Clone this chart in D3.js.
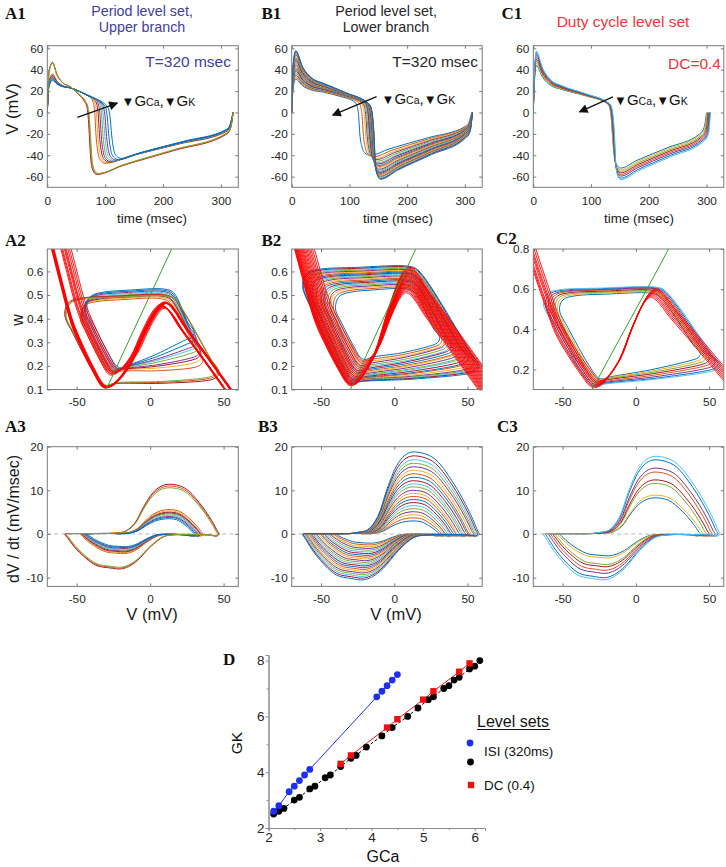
<!DOCTYPE html>
<html>
<head>
<meta charset="utf-8">
<title>Level sets</title>
<script src="https://cdn.jsdelivr.net/npm/d3@7/dist/d3.min.js"></script>
<style>
  body { margin: 0; background: #fff; }
</style>
</head>
<body>
<script>
// MATLAB default trace colours
var matlab = ['#0072BD', '#D95319', '#EDB120', '#7E2F8E', '#77AC30', '#4DBEEE', '#A2142F'];

// ---------- A : period level set, upper branch (12 runs) ----------
var aColor   = ['#D95319','#EDB120','#A2142F','#7E2F8E','#77AC30','#4DBEEE','#7E2F8E','#0072BD','#0072BD','#A2142F','#D95319','#77AC30'];
var aPeak    = [36, 35, 34.5, 34, 33, 32.5, 32, 31, 30, 47, 46.5, 46];          // max V (mV)
var aTrough  = [-47.5, -47, -46.5, -46, -45.5, -45, -44.5, -44, -43, -58, -57.5, -57];
var aFall    = [84, 87, 90, 93, 96, 99, 102, 106, 111, 72.5, 73.5, 74.5];        // ms at -20 mV on the way down
var aPlat    = [23, 23, 23, 23, 23, 23, 23, 23, 23, 24, 24, 24];                 // V at start of plateau
var aPre     = [13, 12, 11.5, 11, 10, 9, 8, 7, 6, 10, 10, 10];                   // V just before the fall
var aEnd     = [-18, -18, -17.5, -17.5, -17, -17, -16.5, -16.5, -16, -20.5, -20, -19.5];
var aPeriod  = [321, 321, 321, 321, 321, 321, 321, 321, 321, 321, 321, 321];
var aTopW    = [0.485, 0.49, 0.495, 0.5, 0.505, 0.51, 0.515, 0.52, 0.525, 0.5, 0.498, 0.495];
var aBotW    = [0.165, 0.17, 0.172, 0.175, 0.178, 0.18, 0.183, 0.186, 0.19, 0.112, 0.114, 0.116];
var aKneeV   = [-27, -26.5, -26, -25, -24.5, -24, -23, -22, -21, -31, -30.5, -30];
var aMaxV    = [7, 7.5, 8, 8, 8.5, 9, 9, 9.5, 10, 10, 10.5, 11];
var aMaxW    = [0.46, 0.458, 0.456, 0.455, 0.453, 0.45, 0.448, 0.446, 0.444, 0.47, 0.468, 0.466];
var aRateMax = [5.6, 5.3, 5.0, 4.8, 4.6, 4.3, 4.0, 3.8, 3.5, 11.4, 11.0, 10.6];
var aRateMin = [-4.5, -4.3, -4.1, -3.9, -3.7, -3.5, -3.3, -3.1, -2.9, -8.0, -7.8, -7.6];

// ---------- B : period level set, lower branch (22 runs, inner to outer) ----------
var bPeak    = [31, 32.5, 34, 35, 36.5, 38, 39, 40.5, 42, 43, 44.5, 46, 47, 48.5, 50, 51, 52.5, 54, 55, 56, 57, 58];
var bTrough  = [-40, -41.5, -43, -44, -45.5, -47, -48, -49.5, -50.5, -51.5, -53, -54, -55, -56, -57, -58, -59, -59.8, -60.5, -61.2, -62, -62.5];
var bFall    = [118, 124, 128, 130.5, 132.5, 134, 135, 136, 137, 137.5, 138, 138.5, 139, 139.5, 140, 140.5, 141, 141.3, 141.6, 142, 142.3, 142.6];
var bPlat    = [19, 19.5, 20, 20.5, 21, 21.3, 21.7, 22, 22.5, 23, 23.3, 23.7, 24, 24.5, 25, 25.3, 25.7, 26, 26.3, 26.6, 27, 27.3];
var bPre     = [9.5, 9.4, 9.3, 9.2, 9.1, 9, 8.9, 8.8, 8.7, 8.6, 8.5, 8.4, 8.3, 8.2, 8.1, 8, 7.9, 7.8, 7.7, 7.6, 7.5, 7.4];
var bEnd     = [-13, -13.5, -14, -14.5, -15, -15.5, -16, -16.5, -17, -17.5, -18, -18.5, -19, -19.5, -20, -20.5, -21, -21.5, -22, -22.5, -23, -24];
var bPeriod  = [313, 313, 313, 313, 313, 313, 313, 313, 313, 313, 313, 313, 313, 313, 313, 313, 313, 313, 313, 313, 313, 313];
var bTopW    = [0.526, 0.532, 0.538, 0.543, 0.548, 0.553, 0.558, 0.563, 0.568, 0.573, 0.578, 0.582, 0.586, 0.59, 0.594, 0.598, 0.602, 0.606, 0.61, 0.614, 0.618, 0.622];
var bBotW    = [0.225, 0.215, 0.206, 0.198, 0.19, 0.183, 0.176, 0.17, 0.164, 0.158, 0.153, 0.148, 0.144, 0.14, 0.136, 0.133, 0.13, 0.128, 0.126, 0.124, 0.122, 0.12];
var bKneeV   = [-21, -21.8, -22.5, -23.1, -23.7, -24.3, -24.8, -25.3, -25.8, -26.2, -26.6, -27, -27.4, -27.8, -28.1, -28.4, -28.7, -29, -29.3, -29.5, -29.8, -30];
var bMaxV    = [8, 8.1, 8.2, 8.3, 8.4, 8.5, 8.6, 8.7, 8.8, 8.9, 9, 9.1, 9.2, 9.3, 9.4, 9.5, 9.6, 9.7, 9.8, 9.9, 10, 10];
var bMaxW    = [0.51, 0.516, 0.522, 0.527, 0.532, 0.537, 0.542, 0.547, 0.552, 0.557, 0.562, 0.567, 0.572, 0.577, 0.582, 0.587, 0.592, 0.597, 0.603, 0.608, 0.614, 0.62];
var bRateMax = [3.0, 3.7, 4.4, 5.1, 5.8, 6.5, 7.2, 7.9, 8.6, 9.3, 10.0, 10.8, 11.5, 12.2, 13.0, 13.8, 14.6, 15.4, 16.2, 17.0, 17.9, 18.8];
var bRateMin = [-2.1, -2.5, -2.9, -3.3, -3.7, -4.1, -4.5, -4.9, -5.3, -5.7, -6.1, -6.5, -6.9, -7.3, -7.7, -8.1, -8.5, -8.9, -9.3, -9.7, -10.1, -10.5];

// ---------- C : duty cycle level set (8 runs, inner to outer) ----------
var cColor   = ['#0072BD','#EDB120','#77AC30','#A2142F','#D95319','#7E2F8E','#0072BD','#4DBEEE'];
var cPeak    = [44, 46, 48, 50, 52, 54, 56, 57.5];
var cTrough  = [-52, -53.5, -55, -56.5, -58, -59.5, -61.5, -63];
var cFall    = [137, 137.5, 138, 138.5, 139, 139.5, 140, 140.5];
var cPlat    = [21.5, 22, 22.5, 23, 23.5, 24, 24.5, 25];
var cPre     = [8, 8, 8, 8, 8, 8, 8, 8];
var cEnd     = [-20, -21, -22, -23, -24, -25, -26, -27];
var cPeriod  = [300, 301, 302, 303, 304, 305, 306, 307];
var cTopW    = [0.58, 0.585, 0.59, 0.595, 0.6, 0.603, 0.607, 0.61];
var cBotW    = [0.15, 0.145, 0.14, 0.135, 0.128, 0.122, 0.117, 0.113];
var cKneeV   = [-24, -25, -26, -26.5, -27, -28, -28.5, -29];
var cMaxV    = [10, 10.5, 11, 11.5, 12, 12.5, 13, 13.5];
var cMaxW    = [0.56, 0.566, 0.572, 0.578, 0.584, 0.59, 0.596, 0.602];
var cRateMax = [8.3, 8.9, 11.6, 12.4, 14.2, 15.1, 17.0, 17.8];
var cRateMin = [-5.0, -5.5, -7.0, -7.5, -8.3, -9.0, -10.0, -10.5];

// w-nullcline (green)
var wNullV = [-34, -30, -15, 0, 15, 26];
var wNullW = [0.05, 0.1, 0.3, 0.5, 0.7, 0.85];

// ---------- D : level sets in (GCa, GK) ----------
var dBlueX  = [2.1, 2.2, 2.4, 2.5, 2.6, 2.7, 2.8, 4.1, 4.2, 4.3, 4.4, 4.5];
var dBlueY  = [2.6, 2.8, 3.3, 3.5, 3.7, 3.9, 4.1, 6.7, 6.9, 7.1, 7.3, 7.5];
var dBlackX = [2.1, 2.2, 2.3, 2.5, 2.6, 2.8, 2.9, 3.1, 3.2, 3.4, 3.6, 3.7, 3.9, 4.2, 4.4, 4.7, 4.9, 5.1, 5.2, 5.4, 5.5, 5.6, 5.7, 5.9, 6.0, 6.1];
var dBlackY = [2.5, 2.6, 2.7, 3.0, 3.1, 3.4, 3.5, 3.8, 3.9, 4.2, 4.5, 4.6, 4.9, 5.3, 5.6, 6.0, 6.3, 6.6, 6.7, 7.0, 7.1, 7.3, 7.4, 7.7, 7.8, 8.0];
var dRedX   = [3.4, 3.6, 4.3, 4.5, 5.0, 5.2, 5.7, 5.9];
var dRedY   = [4.3, 4.6, 5.6, 5.9, 6.6, 6.9, 7.6, 7.9];

// trace shape templates (offsets from knee / hump of each trace)
var NULL_LEFT  = [[-2.3,0.01],[-8,0.072],[-15,0.16],[-22.5,0.27],[-29.5,0.43],[-36,0.59],[-41,0.72],[-46,0.86]];
var NULL_MID   = [[0.08,0.01],[0.15,0.04],[0.4,0.26],[0.63,0.62],[0.83,0.89],[0.93,0.975]];
var NULL_RIGHT = [[3,-0.01],[7,-0.04],[12,-0.09],[25,-0.2],[40,-0.33],[55,-0.46],[70,-0.59]];
var LOOP_LEFT  = [[0.3,0.22],[0.55,0.48],[0.8,0.76]];
var RISE   = [[0,0.02],[0.18,0.05],[0.36,0.21],[0.53,0.55],[0.7,0.83],[0.85,0.96]];
var FALL_R = [[0.3,0.93],[0.6,0.63],[0.85,0.27],[0.97,0.05]];
var DIP_R  = [[0.556,0.02],[0.438,0.075],[0.304,0.36],[0.172,0.75],[0.08,0.93]];
var DIP_L  = [[0.2,0.97],[0.45,0.89],[0.78,0.46],[0.95,0.12]];

var FONT = '"Liberation Sans", Arial, Helvetica, sans-serif';
var SERIF = '"Liberation Serif", "Times New Roman", Times, serif';

var svg = d3.select('body').append('svg').attr('width', 726).attr('height', 867);
svg.append('rect').attr('width', 726).attr('height', 867).attr('fill', '#fff');
var defs = svg.append('defs');
defs.append('marker').attr('id', 'ah').attr('viewBox', '0 0 10 10')
  .attr('refX', 9).attr('refY', 5).attr('markerWidth', 12).attr('markerHeight', 9)
  .attr('markerUnits', 'userSpaceOnUse').attr('orient', 'auto')
  .append('path').attr('d', 'M0,0L10,5L0,10z').attr('fill', '#111');

var COLS = {A: [47.3, 238.3], B: [291.7, 482.2], C: [533.3, 723.8]};
var ROWS = {1: [45.7, 187.3], 2: [249, 389.5], 3: [446.7, 586.4]};

var clipN = 0;
function panel(col, row, xdom, ydom) {
  var xr = COLS[col], yr = ROWS[row];
  var x = d3.scaleLinear().domain(xdom).range(xr);
  var y = d3.scaleLinear().domain(ydom).range([yr[1], yr[0]]);
  var id = 'clip' + (clipN++);
  defs.append('clipPath').attr('id', id).append('rect')
    .attr('x', xr[0]).attr('y', yr[0]).attr('width', xr[1] - xr[0]).attr('height', yr[1] - yr[0]);
  var g = svg.append('g').attr('clip-path', 'url(#' + id + ')');
  return {x: x, y: y, g: g, xr: xr, yr: yr};
}

function frame(p, xticks, yticks, yfmt, xpad) {
  var ax = svg.append('g');
  var plain = function(d) { return String(d); };
  ax.append('g').attr('transform', 'translate(0,' + p.yr[1] + ')')
    .call(d3.axisBottom(p.x).tickValues(xticks).tickSizeInner(-3).tickSizeOuter(0).tickPadding(xpad).tickFormat(plain));
  ax.append('g').attr('transform', 'translate(0,' + p.yr[0] + ')')
    .call(d3.axisTop(p.x).tickValues(xticks).tickSizeInner(-3).tickSizeOuter(0).tickFormat(''));
  ax.append('g').attr('transform', 'translate(' + p.xr[0] + ',0)')
    .call(d3.axisLeft(p.y).tickValues(yticks).tickSizeInner(-3).tickSizeOuter(0).tickPadding(4).tickFormat(yfmt || plain));
  ax.append('g').attr('transform', 'translate(' + p.xr[1] + ',0)')
    .call(d3.axisRight(p.y).tickValues(yticks).tickSizeInner(-3).tickSizeOuter(0).tickFormat(''));
  ax.selectAll('.domain').remove();
  ax.selectAll('g').attr('font-family', FONT).attr('font-size', 11.8);
  ax.selectAll('.tick line').attr('stroke', '#7a7a7a');
  ax.selectAll('.tick text').attr('fill', '#262626');
  ax.append('rect').attr('x', p.xr[0]).attr('y', p.yr[0])
    .attr('width', p.xr[1] - p.xr[0]).attr('height', p.yr[1] - p.yr[0])
    .attr('fill', 'none').attr('stroke', '#7a7a7a').attr('stroke-width', 1);
}

function txt(x, y, s, size, opt) {
  opt = opt || {};
  var t = svg.append('text').attr('x', x).attr('y', y).attr('font-size', size)
    .attr('text-anchor', opt.anchor || 'start').attr('fill', opt.fill || '#1a1a1a')
    .attr('font-family', opt.family || FONT).text(s);
  if (opt.weight) t.attr('font-weight', opt.weight);
  if (opt.rotate) t.attr('transform', 'rotate(-90,' + x + ',' + y + ')');
  return t;
}

function family(c) {
  return c.peak.map(function(_, i) {
    return {
      color: c.color[i], peak: c.peak[i], trough: c.trough[i], fall: c.fall[i],
      plat: c.plat[i], pre: c.pre[i], end: c.end[i], period: c.period[i],
      topW: c.topW[i], botW: c.botW[i], kneeV: c.kneeV[i], maxV: c.maxV[i], maxW: c.maxW[i],
      rmax: c.rmax[i], rmin: c.rmin[i], thick: c.thick ? c.thick(i) : false
    };
  });
}

// V(t) trace of one run
function voltagePoints(r, f) {
  var P = r.peak, tp = f.tPeak, t1 = f.tPlat, V1 = r.plat;
  var tf = r.fall, V2 = r.pre, Tr = r.trough, Ve = r.end, T = r.period;
  var dTr = 12 + 0.3 * (Tr + 60);
  var tTr = tf + dTr, D = T - 12 - tTr;
  return [
    [0, 0], [1.2, 0.45 * P], [3, 0.82 * P], [tp, P],
    [tp + 0.25 * (t1 - tp), P - 0.5 * (P - V1)],
    [tp + 0.55 * (t1 - tp), P - 0.82 * (P - V1)],
    [t1, V1],
    [(t1 + tf - 8) / 2, (V1 + V2) / 2 + 1],
    [tf - 8, V2], [tf - 4.5, V2 - 4], [tf - 2, V2 - 13], [tf, -20],
    [tf + 0.2 * dTr, Tr + 0.4 * (-20 - Tr)],
    [tf + 0.5 * dTr, Tr + 0.1 * (-20 - Tr)],
    [tTr, Tr],
    [tTr + 0.2 * D, Tr + 0.22 * (Ve - Tr)],
    [tTr + 0.6 * D, Tr + 0.6 * (Ve - Tr)],
    [T - 12, Ve], [T - 6, Ve + 3.5], [T - 2.5, Ve + 10], [T, 0]
  ];
}

// V-nullcline of one run
function nullPoints(r, s) {
  var kw = r.botW - 0.004;
  var pts = NULL_LEFT.slice().reverse().map(function(d) { return [r.kneeV + s * d[0], kw + d[1]]; });
  pts.push([r.kneeV, kw]);
  NULL_MID.forEach(function(d) { pts.push([r.kneeV + d[0] * (r.maxV - r.kneeV), kw + d[1] * (r.maxW - kw)]); });
  pts.push([r.maxV, r.maxW]);
  NULL_RIGHT.forEach(function(d) { pts.push([r.maxV + d[0], r.maxW + d[1]]); });
  return pts;
}

// limit cycle in the (V, w) plane
function loopPoints(r) {
  var wL = r.topW - 0.09;
  var wR = r.topW - 0.0085 * (r.peak - r.maxV) - 0.01;
  var wB = wR - 0.035;
  var vBR = r.peak - 6, vBL = r.kneeV + 6;
  var pts = [
    [r.trough, wL], [r.trough + 1, wL + 0.045], [r.trough + 4, r.topW - 0.025],
    [r.trough + 12, r.topW - 0.012], [(r.trough + r.maxV) / 2, r.topW - 0.005],
    [r.maxV, r.topW], [r.maxV + 6, r.topW - 0.015],
    [r.peak - 4, wR + 0.035], [r.peak - 0.8, wR + 0.01], [r.peak, wR - 0.006],
    [r.peak - 1.8, wR - 0.024], [vBR, wB],
    [(vBR + vBL) / 2, r.botW + 0.5 * (wB - r.botW)],
    [vBL, r.botW + 0.012], [r.kneeV + 1, r.botW + 0.002], [r.kneeV - 2, r.botW + 0.01]
  ];
  LOOP_LEFT.forEach(function(d) { pts.push([r.kneeV + d[0] * (r.trough - r.kneeV), r.botW + d[1] * (wL - r.botW)]); });
  return pts;
}

// dV/dt against V
function ratePoints(r) {
  var R = r.rmax, M = -r.rmin;
  var sh = 0.25 * (r.trough + 62);
  var V0 = -25 + sh, Vp = 13, Vn = -21 + sh;
  var pts = [[r.trough, 0], [r.trough + 3, 0.08], [V0 - 5, 0.12]];
  RISE.forEach(function(d) { pts.push([V0 + d[0] * (Vp - V0), d[1] * R]); });
  pts.push([Vp, R]);
  FALL_R.forEach(function(d) { pts.push([Vp + d[0] * (r.peak - Vp), d[1] * R]); });
  pts.push([r.peak, 0], [r.peak - 1.5, -0.45], [r.peak - 6, -0.25]);
  DIP_R.forEach(function(d) { pts.push([Vn + d[0] * (r.peak - Vn), -d[1] * M]); });
  pts.push([Vn, -M]);
  DIP_L.forEach(function(d) { pts.push([Vn - d[0] * (Vn - r.trough), -d[1] * M]); });
  return pts;
}

var fams = [
  {col: 'A', tPeak: 9, tPlat: 40, s: 1.0,
   runs: family({color: aColor, peak: aPeak, trough: aTrough, fall: aFall, plat: aPlat, pre: aPre, end: aEnd, period: aPeriod,
                 topW: aTopW, botW: aBotW, kneeV: aKneeV, maxV: aMaxV, maxW: aMaxW, rmax: aRateMax, rmin: aRateMin,
                 thick: function(i) { return i >= 9; }})},
  {col: 'B', tPeak: 7, tPlat: 55, s: 1.07,
   runs: family({color: bPeak.map(function(_, i) { return matlab[i % 7]; }), peak: bPeak, trough: bTrough, fall: bFall, plat: bPlat,
                 pre: bPre, end: bEnd, period: bPeriod, topW: bTopW, botW: bBotW, kneeV: bKneeV, maxV: bMaxV, maxW: bMaxW,
                 rmax: bRateMax, rmin: bRateMin})},
  {col: 'C', tPeak: 5, tPlat: 50, s: 1.15,
   runs: family({color: cColor, peak: cPeak, trough: cTrough, fall: cFall, plat: cPlat, pre: cPre, end: cEnd, period: cPeriod,
                 topW: cTopW, botW: cBotW, kneeV: cKneeV, maxV: cMaxV, maxW: cMaxW, rmax: cRateMax, rmin: cRateMin})}
];

var wNull = wNullV.map(function(v, i) { return [v, wNullW[i]]; });

fams.forEach(function(f) {
  // row 1 : V(t)
  var p1 = panel(f.col, 1, [0, 330], [-70, 62.5]);
  var l1 = d3.line().x(function(d) { return p1.x(d[0]); }).y(function(d) { return p1.y(d[1]); }).curve(d3.curveMonotoneX);
  p1.g.selectAll('path.v').data(f.runs).enter().append('path')
    .attr('d', function(r) { return l1(voltagePoints(r, f)); })
    .attr('fill', 'none').attr('stroke', function(r) { return r.color; }).attr('stroke-width', 1);
  frame(p1, [0, 100, 200, 300], [-60, -40, -20, 0, 20, 40, 60], null, 9);
  f.p1 = p1;

  // row 2 : phase plane
  var p2 = panel(f.col, 2, [-70, 60], f.col === 'C' ? [0.1, 0.8] : [0.1, 0.695]);
  var l2 = d3.line().x(function(d) { return p2.x(d[0]); }).y(function(d) { return p2.y(d[1]); });
  p2.g.selectAll('path.loop').data(f.runs).enter().append('path')
    .attr('d', function(r) { return l2.curve(d3.curveCatmullRomClosed.alpha(0.5))(loopPoints(r)); })
    .attr('fill', 'none').attr('stroke', function(r) { return r.color; }).attr('stroke-width', 1);
  p2.g.selectAll('path.nc').data(f.runs).enter().append('path')
    .attr('d', function(r) { return l2.curve(d3.curveCatmullRom.alpha(0.5))(nullPoints(r, f.s)); })
    .attr('fill', 'none').attr('stroke', '#ff0000')
    .attr('stroke-width', function(r) { return r.thick ? 1.8 : 0.9; });
  p2.g.append('path').attr('d', l2.curve(d3.curveMonotoneX)(wNull))
    .attr('fill', 'none').attr('stroke', '#33a02c').attr('stroke-width', 1);
  frame(p2, [-50, 0, 50], f.col === 'C' ? [0.2, 0.4, 0.6, 0.8] : [0.1, 0.2, 0.3, 0.4, 0.5, 0.6], d3.format('.1f'), 8);

  // row 3 : dV/dt against V
  var p3 = panel(f.col, 3, [-70, 60], [-12, 20]);
  var l3 = d3.line().x(function(d) { return p3.x(d[0]); }).y(function(d) { return p3.y(d[1]); });
  p3.g.append('path').attr('d', l3([[-70, 0], [60, 0]]))
    .attr('stroke', '#cfcfcf').attr('stroke-width', 1.3).attr('stroke-dasharray', '4,3');
  p3.g.selectAll('path.r').data(f.runs).enter().append('path')
    .attr('d', function(r) { return l3.curve(d3.curveCatmullRomClosed.alpha(0.5))(ratePoints(r)); })
    .attr('fill', 'none').attr('stroke', function(r) { return r.color; }).attr('stroke-width', 1);
  frame(p3, [-50, 0, 50], [-10, 0, 10, 20], null, 8);
});

// arrows in the V(t) panels (data coordinates)
function arrow(p, from, to) {
  svg.append('line')
    .attr('x1', p.x(from[0])).attr('y1', p.y(from[1]))
    .attr('x2', p.x(to[0])).attr('y2', p.y(to[1]))
    .attr('stroke', '#111').attr('stroke-width', 1.3).attr('marker-end', 'url(#ah)');
}
arrow(fams[0].p1, [52, -4.5], [121, 8.8]);
arrow(fams[1].p1, [147, 14.8], [71, -2.5]);
arrow(fams[2].p1, [138, 14.6], [80, 0.5]);

function condLabel(x, y) {
  var t = svg.append('text').attr('x', x).attr('y', y).attr('fill', '#111').attr('font-family', FONT);
  t.append('tspan').attr('font-size', 13).text('▼');
  t.append('tspan').attr('font-size', 15).text('G');
  t.append('tspan').attr('font-size', 10.5).text('Ca');
  t.append('tspan').attr('font-size', 15).text(',');
  t.append('tspan').attr('font-size', 13).text('▼');
  t.append('tspan').attr('font-size', 15).text('G');
  t.append('tspan').attr('font-size', 10.5).text('K');
}
condLabel(121.5, 105.5);
condLabel(381.5, 104);
condLabel(614, 105);

// titles and labels
var blue = '#40409a', red = '#e8363c';
txt(142, 16, 'Period level set,', 14.3, {anchor: 'middle', fill: blue});
txt(142, 32, 'Upper branch', 14.3, {anchor: 'middle', fill: blue});
txt(386, 16, 'Period level set,', 14.3, {anchor: 'middle', fill: '#262626'});
txt(386, 32, 'Lower branch', 14.3, {anchor: 'middle', fill: '#262626'});
txt(623, 27, 'Duty cycle level set', 15.5, {anchor: 'middle', fill: red});
txt(231, 67, 'T=320 msec', 15.5, {anchor: 'end', fill: blue});
txt(478, 67, 'T=320 msec', 15.5, {anchor: 'end', fill: '#262626'});
txt(721, 69, 'DC=0.4', 15.5, {anchor: 'end', fill: red});

[['A1', 5, 18.5], ['B1', 261.5, 18.5], ['C1', 501.5, 18.5],
 ['A2', 5, 245.5], ['B2', 261.5, 245.5], ['C2', 496, 243.5],
 ['A3', 5, 432], ['B3', 258, 432], ['C3', 497, 432], ['D', 223, 665]].forEach(function(d) {
  txt(d[1], d[2], d[0], 17, {family: SERIF, weight: 'bold', fill: '#111'});
});

txt(18.3, 109, 'V (mV)', 16.5, {anchor: 'middle', rotate: true});
txt(23, 320, 'w', 16, {anchor: 'middle', rotate: true});
txt(18.6, 519, 'dV / dt (mV/msec)', 16, {anchor: 'middle', rotate: true});
txt(152, 222.5, 'time (msec)', 13.4, {anchor: 'middle'});
txt(398, 222.5, 'time (msec)', 13.4, {anchor: 'middle'});
txt(639, 222.5, 'time (msec)', 13.4, {anchor: 'middle'});
txt(152, 620, 'V (mV)', 16.5, {anchor: 'middle'});
txt(396, 620, 'V (mV)', 16.5, {anchor: 'middle'});

// ---------- panel D ----------
var dx = d3.scaleLinear().domain([2, 6.2]).range([268.5, 485]);
var dy = d3.scaleLinear().domain([2, 8.2]).range([828, 655]);
var dAx = svg.append('g');
dAx.append('g').attr('transform', 'translate(0,828)')
  .call(d3.axisBottom(dx).tickValues([2, 3, 4, 5, 6]).tickSize(3).tickPadding(1.5).tickFormat(d3.format('d')));
dAx.append('g').attr('transform', 'translate(0,828)')
  .call(d3.axisBottom(dx).tickValues([2.5, 3.5, 4.5, 5.5]).tickSize(2).tickFormat(''));
dAx.append('g').attr('transform', 'translate(268.5,0)')
  .call(d3.axisLeft(dy).tickValues([2, 4, 6, 8]).tickSize(3).tickPadding(1).tickFormat(d3.format('d')));
dAx.append('g').attr('transform', 'translate(268.5,0)')
  .call(d3.axisLeft(dy).tickValues([3, 5, 7]).tickSize(2).tickFormat(''));
dAx.selectAll('g').attr('font-family', FONT).attr('font-size', 13.5);
dAx.selectAll('.domain').attr('stroke', '#8c8c8c');
dAx.selectAll('.tick line').attr('stroke', '#8c8c8c');
dAx.selectAll('.tick text').attr('fill', '#262626');

var dLine = d3.line().x(function(d) { return dx(d[0]); }).y(function(d) { return dy(d[1]); });
var bluePts = dBlueX.map(function(v, i) { return [v, dBlueY[i]]; });
var blackPts = dBlackX.map(function(v, i) { return [v, dBlackY[i]]; });
var redPts = dRedX.map(function(v, i) { return [v, dRedY[i]]; });
svg.append('path').attr('d', dLine(blackPts)).attr('fill', 'none').attr('stroke', '#000').attr('stroke-width', 1).attr('stroke-dasharray', '3,2');
svg.append('path').attr('d', dLine(bluePts)).attr('fill', 'none').attr('stroke', '#1f2ff0').attr('stroke-width', 1);
svg.append('path').attr('d', dLine(redPts)).attr('fill', 'none').attr('stroke', '#ee1111').attr('stroke-width', 1);
svg.selectAll('circle.bk').data(blackPts).enter().append('circle')
  .attr('cx', function(d) { return dx(d[0]); }).attr('cy', function(d) { return dy(d[1]); })
  .attr('r', 3.4).attr('fill', '#000');
svg.selectAll('circle.bl').data(bluePts).enter().append('circle')
  .attr('cx', function(d) { return dx(d[0]); }).attr('cy', function(d) { return dy(d[1]); })
  .attr('r', 3.4).attr('fill', '#1f2ff0');
svg.selectAll('rect.rd').data(redPts).enter().append('rect')
  .attr('x', function(d) { return dx(d[0]) - 3.2; }).attr('y', function(d) { return dy(d[1]) - 3.2; })
  .attr('width', 6.4).attr('height', 6.4).attr('fill', '#ee1111');

txt(242.3, 743, 'GK', 15.5, {anchor: 'middle', rotate: true, fill: '#111'});
txt(383, 862, 'GCa', 16, {anchor: 'middle', fill: '#111'});

// legend
txt(477, 726.5, 'Level sets', 16, {fill: '#111'});
svg.append('line').attr('x1', 477).attr('x2', 550).attr('y1', 729.5).attr('y2', 729.5).attr('stroke', '#111').attr('stroke-width', 1);
svg.append('circle').attr('cx', 470).attr('cy', 743).attr('r', 3.4).attr('fill', '#1f2ff0');
svg.append('circle').attr('cx', 470.5).attr('cy', 762).attr('r', 3.4).attr('fill', '#000');
txt(484, 756, 'ISI (320ms)', 13.4, {fill: '#111'});
svg.append('rect').attr('x', 467.8).attr('y', 781.8).attr('width', 6.4).attr('height', 6.4).attr('fill', '#ee1111');
txt(484, 790, 'DC (0.4)', 13.4, {fill: '#111'});
</script>
</body>
</html>
